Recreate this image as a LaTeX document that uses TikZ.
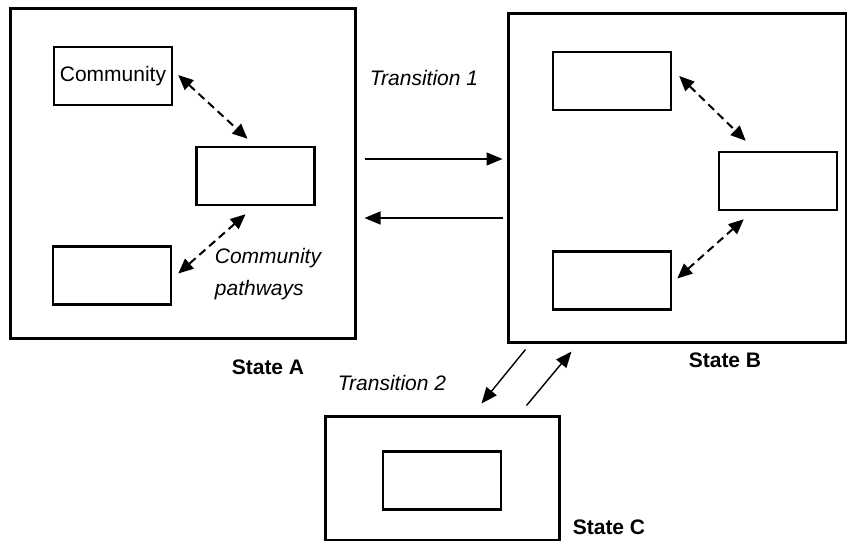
\documentclass[tikz,border=0pt]{standalone}
\usepackage{fontspec}
\setmainfont{Liberation Sans}
\usepackage{tikz}
\usetikzlibrary{calc}
\usetikzlibrary{arrows.meta}
\newcommand{\statebox}[5]{\node[outerbox, minimum width=#4, minimum height=#5] (#1) at ( #2 , #3 ) {};}
\newcommand{\poolbox}[4]{\node[innerbox] (#1) at ( #2 , #3 ) {#4};}
\newcommand{\statetag}[4]{\node[txt, font=\fontsize{21}{25}\selectfont\bfseries] (#1) at ( #2 , #3 ) {#4};}
\tikzset{
  txt/.style={inner sep=0pt, font=\fontsize{21}{25}\selectfont},
  outerbox/.style={draw, line width=3pt, inner sep=0pt},
  innerbox/.style={draw, line width=2.5pt, inner sep=0pt, minimum width=118, minimum height=58, font=\fontsize{21}{25}\selectfont},
  trans/.style={line width=1.4pt, -{Triangle[length=16pt,width=13pt]}},
  path/.style={line width=2pt, dash pattern=on 8pt off 5pt, {Triangle[length=15pt,width=13pt]}-{Triangle[length=15pt,width=13pt]}}
}

\begin{document}
\begin{tikzpicture}[x=1pt,y=-1pt]
        \useasboundingbox (0,0) rectangle (847,541);

        % state A
        \statebox{sA}{182.5}{173}{345}{330}
        \poolbox{a1}{113}{76}{Community}
        \poolbox{a2}{255.5}{176}{}
        \poolbox{a3}{112}{275.5}{}

        \draw[path] ($(a1.east)+(5,-1)$) -- ($(a2.north)+(-8,-7)$);
        \draw[path] ($(a2.south)+(-10,8)$) -- ($(a3.east)+(6,-2)$);

        \node[txt, font=\fontsize{21}{32}\selectfont\itshape, align=left] (cp) at (268,274) {Community\\pathways};

        \statetag{tA}{268}{367}{State A}

        % state B
        \statebox{sB}{677}{177.5}{338}{329}
        \poolbox{b1}{612}{81}{}
        \poolbox{b2}{778}{181}{}
        \poolbox{b3}{612}{280.5}{}

        \draw[path] ($(b1.east)+(7,-5)$) -- ($(b2.north west)+(28,-10)$);
        \draw[path] ($(b2.south west)+(26,8)$) -- ($(b3.east)+(5,-2)$);

        \statetag{tB}{725}{360}{State B}

        % state C
        \statebox{sC}{442}{478}{234}{124}
        \poolbox{c1}{442}{480.5}{}

        \statetag{tC}{609}{527}{State C}

        % transition 1
        \coordinate (t1in) at (0,159);
        \coordinate (t1out) at (0,218);
        \draw[trans, shorten <=8pt, shorten >=4pt] (sA.east |- t1in) -- (sB.west |- t1in);
        \draw[trans, shorten <=4pt, shorten >=8pt] (sB.west |- t1out) -- (sA.east |- t1out);
        \node[txt, font=\fontsize{21}{25}\selectfont\itshape] (tr1) at (424,78) {Transition 1};

        % transition 2
        \draw[trans] ($(sB.south west)+(19,6)$) -- ($(sC.north west)+(158,-11)$);
        \draw[trans] ($(sC.north west)+(203,-9)$) -- ($(sB.south west)+(65,8)$);
        \node[txt, font=\fontsize{21}{25}\selectfont\itshape] (tr2) at (392,383) {Transition 2};

    \end{tikzpicture}
\end{document}
